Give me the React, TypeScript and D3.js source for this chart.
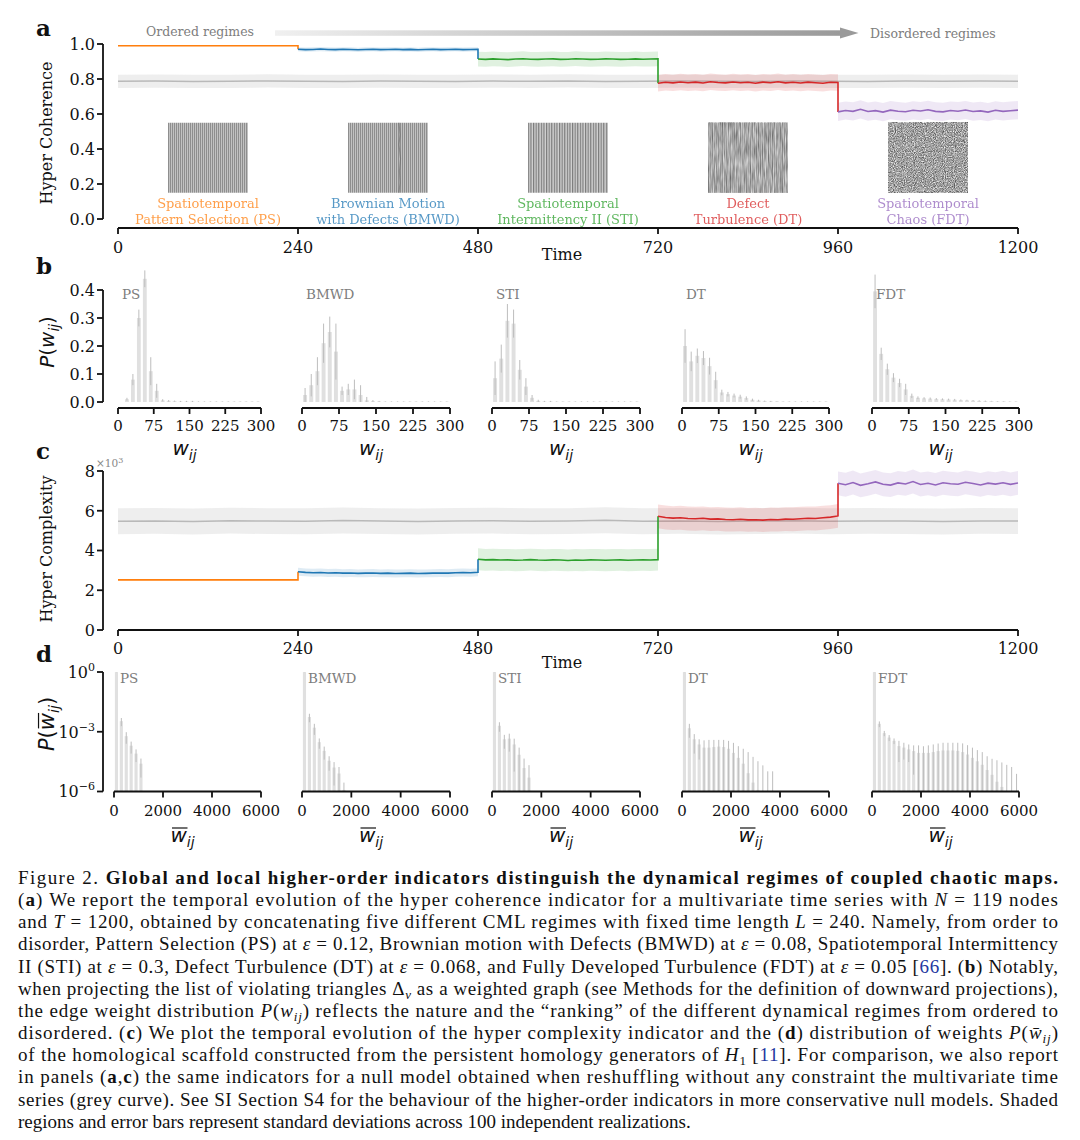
import * as d3 from "d3";

// ---------- regimes ----------
const regimes = ["PS", "BMWD", "STI", "DT", "FDT"];
const regimeColors = ["#ff7f0e", "#1f77b4", "#2ca02c", "#d62728", "#9467bd"];
const regimeNames = [
  ["Spatiotemporal", "Pattern Selection (PS)"],
  ["Brownian Motion", "with Defects (BMWD)"],
  ["Spatiotemporal", "Intermittency II (STI)"],
  ["Defect", "Turbulence (DT)"],
  ["Spatiotemporal", "Chaos (FDT)"],
];
const timeTicks = [0, 240, 480, 720, 960, 1200];
const regimeLength = 240;
const sampleStep = 10; // regime curves sampled every 10 time steps
const nullStep = 50; // null curve sampled every 50 time steps

// ---------- panel a: hyper coherence ----------
const cohPS = [0.99, 0.99, 0.99, 0.99, 0.99, 0.99, 0.99, 0.99, 0.99, 0.99, 0.99, 0.99, 0.99, 0.99, 0.99, 0.99, 0.99, 0.99, 0.99, 0.99, 0.99, 0.99, 0.99, 0.99, 0.99];
const cohBMWD = [0.970, 0.968, 0.969, 0.971, 0.969, 0.968, 0.970, 0.969, 0.967, 0.969, 0.970, 0.968, 0.969, 0.970, 0.968, 0.969, 0.967, 0.969, 0.970, 0.968, 0.969, 0.970, 0.968, 0.969, 0.970];
const cohSTI = [0.914, 0.912, 0.915, 0.913, 0.911, 0.914, 0.916, 0.913, 0.912, 0.914, 0.915, 0.912, 0.913, 0.916, 0.914, 0.912, 0.913, 0.915, 0.914, 0.912, 0.913, 0.915, 0.913, 0.914, 0.915];
const cohDT = [0.776, 0.781, 0.778, 0.783, 0.779, 0.782, 0.777, 0.784, 0.780, 0.778, 0.783, 0.779, 0.781, 0.776, 0.782, 0.779, 0.784, 0.778, 0.781, 0.777, 0.782, 0.779, 0.776, 0.781, 0.780];
const cohFDT = [0.612, 0.620, 0.615, 0.627, 0.614, 0.619, 0.611, 0.622, 0.616, 0.613, 0.621, 0.617, 0.624, 0.615, 0.612, 0.620, 0.616, 0.623, 0.614, 0.618, 0.611, 0.621, 0.615, 0.619, 0.622];
const cohStd = [0.003, 0.012, 0.042, 0.047, 0.052];
const cohNull = [0.787, 0.788, 0.786, 0.787, 0.789, 0.787, 0.786, 0.788, 0.787, 0.786, 0.788, 0.787, 0.789, 0.786, 0.787, 0.788, 0.787, 0.786, 0.788, 0.787, 0.786, 0.788, 0.787, 0.788, 0.787];
const cohNullStd = 0.038;
const cohTicks = [0, 0.2, 0.4, 0.6, 0.8, 1.0];

// ---------- panel b: P(w_ij), bins of 12.5 ----------
const wBin = 12.5;
const wTicks = [0, 75, 150, 225, 300];
const pwPS = [0, 0.01, 0.08, 0.30, 0.44, 0.11, 0.04, 0.006, 0.004, 0.003, 0.002, 0.002, 0.002, 0.001, 0.001, 0.001, 0.001, 0.001, 0.001, 0.001, 0.001, 0.001, 0.001, 0.001];
const pwPSStd = [0, 0.005, 0.02, 0.03, 0.03, 0.05, 0.025, 0.004, 0.003, 0.002, 0.002, 0.002, 0.002, 0.001, 0.001, 0.001, 0.001, 0.001, 0.001, 0.001, 0.001, 0.001, 0.001, 0.001];
const pwBMWD = [0.025, 0.06, 0.11, 0.21, 0.25, 0.18, 0.04, 0.045, 0.045, 0.025, 0.006, 0.003, 0.002, 0.001, 0.001, 0.001, 0.001, 0.001, 0.001, 0.001, 0.001, 0.001, 0.001, 0.001];
const pwBMWDStd = [0.025, 0.04, 0.05, 0.07, 0.055, 0.1, 0.015, 0.02, 0.035, 0.035, 0.012, 0.004, 0.002, 0.001, 0.001, 0.001, 0.001, 0.001, 0.001, 0.001, 0.001, 0.001, 0.001, 0.001];
const pwSTI = [0.085, 0.155, 0.29, 0.28, 0.115, 0.055, 0.015, 0.004, 0.002, 0.002, 0.001, 0.001, 0.001, 0.001, 0.001, 0.001, 0.001, 0.001, 0.001, 0.001, 0.001, 0.001, 0.001, 0.001];
const pwSTIStd = [0.06, 0.05, 0.06, 0.05, 0.035, 0.03, 0.01, 0.004, 0.002, 0.002, 0.001, 0.001, 0.001, 0.001, 0.001, 0.001, 0.001, 0.001, 0.001, 0.001, 0.001, 0.001, 0.001, 0.001];
const pwDT = [0.2, 0.145, 0.165, 0.157, 0.128, 0.078, 0.034, 0.028, 0.023, 0.019, 0.014, 0.008, 0.005, 0.003, 0.002, 0.002, 0.001, 0.001, 0.001, 0.001, 0.001, 0.001, 0.001, 0.001];
const pwDTStd = [0.06, 0.035, 0.026, 0.025, 0.03, 0.03, 0.01, 0.008, 0.007, 0.007, 0.006, 0.004, 0.003, 0.002, 0.002, 0.001, 0.001, 0.001, 0.001, 0.001, 0.001, 0.001, 0.001, 0.001];
const pwFDT = [0.395, 0.172, 0.117, 0.087, 0.068, 0.045, 0.022, 0.015, 0.013, 0.012, 0.011, 0.010, 0.009, 0.008, 0.007, 0.006, 0.005, 0.004, 0.003, 0.003, 0.002, 0.002, 0.001, 0.001];
const pwFDTStd = [0.06, 0.022, 0.02, 0.016, 0.015, 0.02, 0.008, 0.005, 0.004, 0.004, 0.003, 0.003, 0.003, 0.003, 0.002, 0.002, 0.002, 0.002, 0.002, 0.001, 0.001, 0.001, 0.001, 0.001];
const pwTicks = [0, 0.1, 0.2, 0.3, 0.4];

// ---------- panel c: hyper complexity (x10^3) ----------
const cxPS = [2.52, 2.52, 2.52, 2.52, 2.52, 2.52, 2.52, 2.52, 2.52, 2.52, 2.52, 2.52, 2.52, 2.52, 2.52, 2.52, 2.52, 2.52, 2.52, 2.52, 2.52, 2.52, 2.52, 2.52, 2.52];
const cxBMWD = [2.93, 2.90, 2.88, 2.89, 2.87, 2.88, 2.86, 2.87, 2.85, 2.86, 2.87, 2.85, 2.86, 2.84, 2.85, 2.86, 2.84, 2.85, 2.86, 2.87, 2.86, 2.88, 2.89, 2.88, 2.90];
const cxSTI = [3.56, 3.53, 3.54, 3.52, 3.53, 3.51, 3.52, 3.54, 3.52, 3.51, 3.53, 3.52, 3.50, 3.52, 3.51, 3.53, 3.52, 3.51, 3.52, 3.53, 3.51, 3.52, 3.53, 3.52, 3.54];
const cxDT = [5.72, 5.66, 5.63, 5.65, 5.61, 5.60, 5.62, 5.58, 5.59, 5.56, 5.55, 5.57, 5.54, 5.55, 5.53, 5.56, 5.55, 5.58, 5.57, 5.60, 5.62, 5.61, 5.65, 5.68, 5.74];
const cxFDT = [7.38, 7.31, 7.42, 7.28, 7.36, 7.45, 7.33, 7.29, 7.40, 7.35, 7.47, 7.32, 7.38, 7.30, 7.41, 7.36, 7.33, 7.43, 7.37, 7.30, 7.39, 7.34, 7.41, 7.33, 7.40];
const cxStd = [0.03, 0.2, 0.55, 0.6, 0.6];
const cxNull = [5.47, 5.49, 5.46, 5.50, 5.48, 5.47, 5.51, 5.48, 5.46, 5.49, 5.50, 5.47, 5.48, 5.52, 5.47, 5.49, 5.46, 5.48, 5.50, 5.47, 5.49, 5.48, 5.46, 5.49, 5.48];
const cxNullStd = 0.65;
const cxTicks = [0, 2, 4, 6, 8];

// ---------- panel d: P(w̄_ij), bins of 200, log scale ----------
const wbBin = 200;
const wbTicks = [0, 2000, 4000, 6000];
const pwbPS = [0.99, 3.4e-3, 6e-4, 2e-4, 8e-5, 2.5e-5];
const pwbPSStd = [0.01, 1.5e-3, 3.5e-4, 1.2e-4, 5e-5, 2e-5];
const pwbBMWD = [0.99, 5.5e-3, 1.6e-3, 3e-4, 1.1e-4, 3.5e-5, 1.6e-5, 8e-6, 1.2e-6];
const pwbBMWDStd = [0.01, 2.5e-3, 9e-4, 1.6e-4, 7e-5, 2.4e-5, 1.4e-5, 9e-6, 1.6e-6];
const pwbSTI = [0.99, 2e-3, 4.2e-4, 4.5e-4, 2.3e-4, 7e-5, 1.5e-5, 5e-6];
const pwbSTIStd = [0.01, 1e-3, 2.8e-4, 3.5e-4, 2.2e-4, 9e-5, 3e-5, 1.6e-5];
const pwbDT = [0.99, 1.5e-3, 4.2e-4, 2.3e-4, 1.6e-4, 1.6e-4, 1.7e-4, 1.8e-4, 1.7e-4, 1.4e-4, 8.7e-5, 4.9e-5, 2.5e-5, 8.3e-6, 2.8e-6, 1.2e-6, 5e-7, 3e-7, 3e-7];
const pwbDTStd = [0.01, 1e-3, 3.4e-4, 1.9e-4, 2.1e-4, 2.3e-4, 2.2e-4, 2.1e-4, 2.2e-4, 2.1e-4, 1.9e-4, 1.4e-4, 1.15e-4, 8.7e-5, 5.2e-5, 3.2e-5, 2e-5, 1e-5, 1e-5];
const pwbFDT = [0.99, 2.5e-3, 8.5e-4, 5.1e-4, 3.5e-4, 1.9e-4, 1.6e-4, 1.3e-4, 1.07e-4, 8.7e-5, 8.7e-5, 8.7e-5, 9.5e-5, 1.07e-4, 1.15e-4, 1.15e-4, 1.15e-4, 1.1e-4, 9.5e-5, 7.2e-5, 4.9e-5, 3.3e-5, 2.2e-5, 1.2e-5, 6.9e-6, 3.1e-6, 1.7e-6, 8e-7, 5e-7, 3e-7];
const pwbFDTStd = [0.01, 8e-4, 2.5e-4, 1.7e-4, 1.1e-4, 1.6e-4, 1.2e-4, 1.0e-4, 1.0e-4, 1.2e-4, 1.0e-4, 1.2e-4, 1.35e-4, 1.5e-4, 1.65e-4, 1.65e-4, 1.65e-4, 1.7e-4, 1.65e-4, 1.4e-4, 1.1e-4, 8.7e-5, 7.3e-5, 4.7e-5, 3.7e-5, 3.4e-5, 2.7e-5, 2.1e-5, 1.65e-5, 7.4e-6];
const pwbTicks = [1e-6, 1e-3, 1];

const FONT = "'DejaVu Serif', serif";
const MATH = "'DejaVu Sans', sans-serif";
const INK = "#111";
const GREY_TXT = "#7d7d7d";

// subplot frames for b and d
const bLeft = [118, 302, 492, 682, 872];
const dLeft = [114, 302, 492, 682, 872];
const subRight = [261, 450, 640, 829, 1019];

const YAxis = ({ x, scale, ticks, fmt }: any) => {
  const ys = ticks.map((t: number) => scale(t));
  return (
    <g>
      <line x1={x} x2={x} y1={Math.min(...ys)} y2={Math.max(...ys)} stroke={INK} strokeWidth={1.8} />
      {ticks.map((t: number) => (
        <g key={t}>
          <line x1={x - 6} x2={x} y1={scale(t)} y2={scale(t)} stroke={INK} strokeWidth={1.8} />
          <text x={x - 8} y={scale(t)} dy="0.36em" textAnchor="end" fontSize={16} fill={INK}>
            {fmt(t)}
          </text>
        </g>
      ))}
    </g>
  );
};

const XAxis = ({ y, scale, ticks, size, labelY }: any) => {
  const xs = ticks.map((t: number) => scale(t));
  return (
    <g>
      <line x1={Math.min(...xs)} x2={Math.max(...xs)} y1={y} y2={y} stroke={INK} strokeWidth={1.8} />
      {ticks.map((t: number) => (
        <g key={t}>
          <line x1={scale(t)} x2={scale(t)} y1={y} y2={y + 6} stroke={INK} strokeWidth={1.8} />
          <text x={scale(t)} y={labelY} dy="0.36em" textAnchor="middle" fontSize={size} fill={INK}>
            {t}
          </text>
        </g>
      ))}
    </g>
  );
};

const TimeSeries = ({ values, std, nullValues, nullStd, x, y }: any) => {
  const line = d3.line<number[]>().x(d => x(d[0])).y(d => y(d[1]));
  const band = d3
    .area<number[]>()
    .x(d => x(d[0]))
    .y0(d => y(d[1] - d[2]))
    .y1(d => y(d[1] + d[2]));
  const nullPts = nullValues.map((v: number, k: number) => [k * nullStep, v, nullStd]);
  return (
    <g>
      <path d={band(nullPts) as string} fill="#cfcfcf" fillOpacity={0.35} />
      <path d={line(nullPts) as string} fill="none" stroke="#b9b9b9" strokeWidth={1.5} />
      {values.map((vals: number[], i: number) => {
        const start = i * regimeLength;
        const pts = vals.map((v, k) => [start + k * sampleStep, v, std[i]]);
        return <path key={"b" + i} d={band(pts) as string} fill={regimeColors[i]} fillOpacity={0.15} />;
      })}
      {values.map((vals: number[], i: number) => {
        const start = i * regimeLength;
        const pts = vals.map((v, k) => [start + k * sampleStep, v]);
        if (i < values.length - 1) pts.push([start + regimeLength, values[i + 1][0]]);
        return <path key={"l" + i} d={line(pts) as string} fill="none" stroke={regimeColors[i]} strokeWidth={1.6} />;
      })}
    </g>
  );
};

const Hist = ({ xs, y, values, std, bin, floor }: any) => (
  <g>
    {values.map((v: number, j: number) => {
      const x0 = xs(j * bin + bin * 0.18);
      const x1 = xs(j * bin + bin * 0.82);
      const cx = xs((j + 0.5) * bin);
      const base = y(floor);
      const top = y(Math.max(v, floor));
      const lo = y(Math.max(v - std[j], floor));
      const hi = y(Math.max(v + std[j], floor));
      return (
        <g key={j}>
          <rect x={x0} width={x1 - x0} y={top} height={base - top} fill="#e0e0e0" />
          {std[j] > 0 && <line x1={cx} x2={cx} y1={lo} y2={hi} stroke="#bdbdbd" strokeWidth={1} />}
        </g>
      );
    })}
  </g>
);

// x label w_ij (optionally with an overbar on w)
const Wij = ({ x, y, bar }: any) => (
  <g>
    <text x={x} y={y} textAnchor="middle" fontFamily={MATH} fontStyle="italic" fontSize={20} fill={INK}>
      w<tspan dy={5} fontSize={14}>ij</tspan>
    </text>
    {bar && <line x1={x - 10.5} x2={x + 5} y1={y - 14} y2={y - 14} stroke={INK} strokeWidth={1.2} />}
  </g>
);

// rotated y label P(w_ij)
const Pw = ({ x, y, bar, size }: any) => {
  const s = size / 19;
  return (
    <g transform={`translate(${x},${y}) rotate(-90)`}>
      <text textAnchor="middle" fontFamily={MATH} fontSize={size} fill={INK}>
        <tspan fontStyle="italic">P</tspan>(<tspan fontStyle="italic">w</tspan>
        <tspan fontStyle="italic" fontSize={size * 0.68} dy={5}>ij</tspan>
        <tspan dy={-5}>)</tspan>
      </text>
      {bar && <line x1={-4 * s} x2={10 * s} y1={-14 * s} y2={-14 * s} stroke={INK} strokeWidth={1.2} />}
    </g>
  );
};

const Sub = ({ children, it }: any) => (
  <tspan baselineShift="-4" fontSize={13} fontStyle={it ? "italic" : "normal"}>
    {children}
  </tspan>
);
const I = ({ children }: any) => <tspan fontStyle="italic">{children}</tspan>;
const B = ({ children }: any) => <tspan fontWeight="bold">{children}</tspan>;
const Ref = ({ children }: any) => <tspan fill="#2337a0">{children}</tspan>;

const captionLines = [
  <>Figure 2. <B>Global and local higher-order indicators distinguish the dynamical regimes of coupled chaotic maps.</B></>,
  <>(<B>a</B>) We report the temporal evolution of the hyper coherence indicator for a multivariate time series with <I>N</I> = 119 nodes</>,
  <>and <I>T</I> = 1200, obtained by concatenating five different CML regimes with fixed time length <I>L</I> = 240. Namely, from order to</>,
  <>disorder, Pattern Selection (PS) at <I>ε</I> = 0.12, Brownian motion with Defects (BMWD) at <I>ε</I> = 0.08, Spatiotemporal Intermittency</>,
  <>II (STI) at <I>ε</I> = 0.3, Defect Turbulence (DT) at <I>ε</I> = 0.068, and Fully Developed Turbulence (FDT) at <I>ε</I> = 0.05 [<Ref>66</Ref>]. (<B>b</B>) Notably,</>,
  <>when projecting the list of violating triangles Δ<Sub it>v</Sub> as a weighted graph (see Methods for the definition of downward projections),</>,
  <>the edge weight distribution <I>P</I>(<I>w</I><Sub it>ij</Sub>) reflects the nature and the “ranking” of the different dynamical regimes from ordered to</>,
  <>disordered. (<B>c</B>) We plot the temporal evolution of the hyper complexity indicator and the (<B>d</B>) distribution of weights <I>P</I>(<I>{"w\u0304"}</I><Sub it>ij</Sub>)</>,
  <>of the homological scaffold constructed from the persistent homology generators of <I>H</I><Sub>1</Sub> [<Ref>11</Ref>]. For comparison, we also report</>,
  <>in panels (<B>a</B>,<B>c</B>) the same indicators for a null model obtained when reshuffling without any constraint the multivariate time</>,
  <>series (grey curve). See SI Section S4 for the behaviour of the higher-order indicators in more conservative null models. Shaded</>,
  <>regions and error bars represent standard deviations across 100 independent realizations.</>,
];

export default function App() {
  const xTime = d3.scaleLinear().domain([0, 1200]).range([118, 1018]);
  const yA = d3.scaleLinear().domain([0, 1]).range([219, 44]);
  const yB = d3.scaleLinear().domain([0, 0.4]).range([402, 290]);
  const yC = d3.scaleLinear().domain([0, 8]).range([630, 471]);
  const yD = d3.scaleLog().domain([1e-6, 1]).range([791.5, 672]);

  const cohSeries = [cohPS, cohBMWD, cohSTI, cohDT, cohFDT];
  const cxSeries = [cxPS, cxBMWD, cxSTI, cxDT, cxFDT];
  const pw = [pwPS, pwBMWD, pwSTI, pwDT, pwFDT];
  const pwStd = [pwPSStd, pwBMWDStd, pwSTIStd, pwDTStd, pwFDTStd];
  const pwb = [pwbPS, pwbBMWD, pwbSTI, pwbDT, pwbFDT];
  const pwbStd = [pwbPSStd, pwbBMWDStd, pwbSTIStd, pwbDTStd, pwbFDTStd];

  const imgTop = yA(0.55);
  const imgBottom = yA(0.15);
  const imgW = 80;

  return (
    <svg
      width={1080}
      height={1140}
      style={{ position: "absolute", left: 0, top: 0, background: "#fff" }}
      fontFamily={FONT}
    >
      <defs>
        <linearGradient id="arrowGrad" x1="0" x2="1" y1="0" y2="0">
          <stop offset="0" stopColor="#f0f0f0" />
          <stop offset="1" stopColor="#9a9a9a" />
        </linearGradient>
        <pattern id="stripesFine" width={2} height={10} patternUnits="userSpaceOnUse">
          <rect width={2} height={10} fill="#c2c2c2" />
          <rect width={1} height={10} fill="#8e8e8e" />
        </pattern>
        <pattern id="stripesWide" width={2.6} height={10} patternUnits="userSpaceOnUse">
          <rect width={2.6} height={10} fill="#d2d2d2" />
          <rect width={1.2} height={10} fill="#7a7a7a" />
        </pattern>
        <filter id="dtNoise" x="0" y="0" width="1" height="1" colorInterpolationFilters="sRGB">
          <feTurbulence type="fractalNoise" baseFrequency="0.6 0.07" numOctaves={2} seed={3} />
          <feColorMatrix type="matrix" values="1.1 0 0 0 0.1  1.1 0 0 0 0.1  1.1 0 0 0 0.1  0 0 0 0 1" />
        </filter>
        <filter id="fdtNoise" x="0" y="0" width="1" height="1" colorInterpolationFilters="sRGB">
          <feTurbulence type="fractalNoise" baseFrequency="1.1 0.8" numOctaves={1} seed={11} />
          <feColorMatrix type="matrix" values="1.1 0 0 0 0.08  1.1 0 0 0 0.08  1.1 0 0 0 0.08  0 0 0 0 1" />
        </filter>
      </defs>
      <rect width={1080} height={1140} fill="#fff" />

      {/* ---------------- panel a ---------------- */}
      <text x={36} y={36} fontSize={23} fontWeight="bold" fill={INK}>a</text>
      <text x={146} y={31} dy="0.36em" fontSize={12.5} fill={GREY_TXT}>Ordered regimes</text>
      <rect x={275} y={30.3} width={566} height={5.5} fill="url(#arrowGrad)" />
      <polygon points="840,27.5 858.5,33 840,38.6" fill="#9a9a9a" />
      <text x={870} y={33} dy="0.36em" fontSize={12.5} fill={GREY_TXT}>Disordered regimes</text>

      {regimes.map((r, i) => {
        const cx = xTime(i * regimeLength + regimeLength / 2);
        const x0 = cx - imgW / 2;
        const h = imgBottom - imgTop;
        return (
          <g key={r}>
            {r === "PS" && <rect x={x0} y={imgTop} width={imgW} height={h} fill="url(#stripesFine)" />}
            {r === "BMWD" && (
              <g>
                <rect x={x0} y={imgTop} width={imgW} height={h} fill="url(#stripesFine)" />
                <path
                  d={`M${x0 + 51},${imgTop} l1,12 l-1,10 l1.5,14 l-1,12 l0.5,12 l-1,10`}
                  fill="none"
                  stroke="#666"
                  strokeWidth={1.2}
                  opacity={0.6}
                />
              </g>
            )}
            {r === "STI" && <rect x={x0} y={imgTop} width={imgW} height={h} fill="url(#stripesWide)" />}
            {r === "DT" && (
              <g>
                <rect x={x0} y={imgTop} width={imgW} height={h} fill="url(#stripesFine)" />
                <rect x={x0} y={imgTop} width={imgW} height={h} fill="#888" filter="url(#dtNoise)" opacity={0.5} />
              </g>
            )}
            {r === "FDT" && <rect x={x0} y={imgTop} width={imgW} height={h} fill="#888" filter="url(#fdtNoise)" />}
            <text x={cx} y={yA(0) - 16} dy="0.36em" textAnchor="middle" fontSize={13} fill={regimeColors[i]} opacity={0.75}>
              {regimeNames[i][0]}
            </text>
            <text x={cx} y={yA(0)} dy="0.36em" textAnchor="middle" fontSize={13} fill={regimeColors[i]} opacity={0.75}>
              {regimeNames[i][1]}
            </text>
          </g>
        );
      })}

      <TimeSeries values={cohSeries} std={cohStd} nullValues={cohNull} nullStd={cohNullStd} x={xTime} y={yA} />
      <YAxis x={103} scale={yA} ticks={cohTicks} fmt={(t: number) => t.toFixed(1)} />
      <XAxis y={228} scale={xTime} ticks={timeTicks} size={16} labelY={247} />
      <text x={562} y={260} textAnchor="middle" fontSize={16} fill={INK}>Time</text>
      <text transform="translate(52,133) rotate(-90)" textAnchor="middle" fontSize={16} fill={INK}>Hyper Coherence</text>

      {/* ---------------- panel b ---------------- */}
      <text x={36} y={274} fontSize={23} fontWeight="bold" fill={INK}>b</text>
      <YAxis x={103} scale={yB} ticks={pwTicks} fmt={(t: number) => t.toFixed(1)} />
      <Pw x={54} y={342} size={20} />
      {regimes.map((r, i) => {
        const xs = d3.scaleLinear().domain([0, 300]).range([bLeft[i], subRight[i]]);
        return (
          <g key={r}>
            <Hist xs={xs} y={yB} values={pw[i]} std={pwStd[i]} bin={wBin} floor={0} />
            <XAxis y={408} scale={xs} ticks={wTicks} size={15} labelY={426} />
            <text x={xs(0) + 4} y={299} fontSize={13.5} fill={GREY_TXT}>{r}</text>
            <Wij x={(bLeft[i] + subRight[i]) / 2 - 5} y={455} />
          </g>
        );
      })}

      {/* ---------------- panel c ---------------- */}
      <text x={36} y={459} fontSize={23} fontWeight="bold" fill={INK}>c</text>
      <text x={96} y={467} fontSize={10.5} fill="#888">
        ×10<tspan dy={-4} fontSize={8}>3</tspan>
      </text>
      <TimeSeries values={cxSeries} std={cxStd} nullValues={cxNull} nullStd={cxNullStd} x={xTime} y={yC} />
      <YAxis x={103} scale={yC} ticks={cxTicks} fmt={(t: number) => t} />
      <XAxis y={630} scale={xTime} ticks={timeTicks} size={16} labelY={648.5} />
      <text x={562} y={668} textAnchor="middle" fontSize={16} fill={INK}>Time</text>
      <text transform="translate(52,549) rotate(-90)" textAnchor="middle" fontSize={16} fill={INK}>Hyper Complexity</text>

      {/* ---------------- panel d ---------------- */}
      <text x={36} y={662} fontSize={23} fontWeight="bold" fill={INK}>d</text>
      <YAxis
        x={103}
        scale={yD}
        ticks={pwbTicks}
        fmt={(t: number) => (
          <>
            10<tspan dy={-7} fontSize={11}>{Math.round(Math.log10(t)) === 0 ? "0" : "\u2212" + Math.abs(Math.round(Math.log10(t)))}</tspan>
          </>
        )}
      />
      <Pw x={54} y={724} size={21} bar />
      {regimes.map((r, i) => {
        const xs = d3.scaleLinear().domain([0, 6000]).range([dLeft[i], subRight[i]]);
        return (
          <g key={r}>
            <Hist xs={xs} y={yD} values={pwb[i]} std={pwbStd[i]} bin={wbBin} floor={1e-6} />
            <XAxis y={791.5} scale={xs} ticks={wbTicks} size={15} labelY={810.5} />
            <text x={xs(0) + 6} y={683} fontSize={13.5} fill={GREY_TXT}>{r}</text>
            <Wij x={(dLeft[i] + subRight[i]) / 2 - 5} y={842} bar />
          </g>
        );
      })}

      {/* ---------------- caption ---------------- */}
      <g fontFamily="'Liberation Serif', serif" fontSize={19} fill={INK}>
        {captionLines.map((c, i) => (
          <text
            key={i}
            x={18}
            y={884 + i * 22.15}
            textLength={i < captionLines.length - 1 ? 1040 : undefined}
            lengthAdjust="spacing"
          >
            {c}
          </text>
        ))}
      </g>
    </svg>
  );
}
